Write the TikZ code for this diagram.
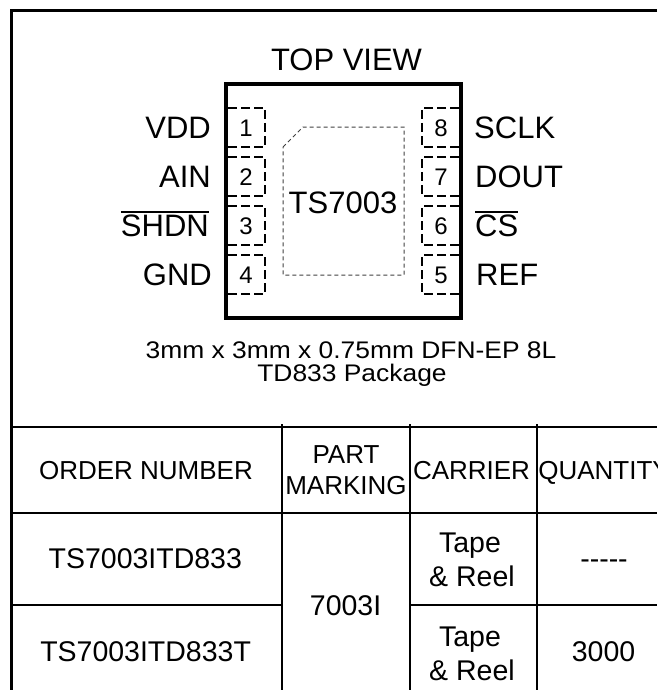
\documentclass[tikz,border=0pt]{standalone}
\usepackage{graphicx}
\usepackage{fontspec}
\setmainfont{Liberation Sans}
\newcommand\ovl[1]{\setbox0=\hbox{#1}\rlap{\rule[0.77em]{\wd0}{1.8pt}}\box0}
\begin{document}
\begin{tikzpicture}[x=1pt,y=-1pt,
  frame/.style={line width=3pt},
  tline/.style={line width=2.6pt},
  chipbody/.style={line width=4pt},
  padline/.style={line width=1.3pt, dash pattern=on 9pt off 4pt},
  epad/.style={line width=1pt, dash pattern=on 4pt off 3pt, draw=black!75},
  big/.style={inner sep=0pt, anchor=base, font=\fontsize{31}{31}\selectfont},
  pinnum/.style={inner sep=0pt, anchor=base, font=\fontsize{24}{24}\selectfont},
  caption/.style={inner sep=0pt, anchor=base, font=\fontsize{24}{24}\selectfont},
  hdr/.style={inner sep=0pt, anchor=base, font=\fontsize{26}{26}\selectfont},
  cell/.style={inner sep=0pt, anchor=base, font=\fontsize{28.5}{28.5}\selectfont}]
\useasboundingbox (0,0) rectangle (657,690);
\clip (0,0) rectangle (657,690);
% outer frame
\draw[frame] (657,11) -- (11,11) -- (11,690);
% table lines
\draw[tline] (11,427) -- (657,427);
\draw[tline] (11,513) -- (657,513);
\draw[tline] (11,605) -- (282,605);
\draw[tline] (410,605) -- (657,605);
\foreach \cx in {282,410,537} \draw[tline] (\cx,424) -- (\cx,690);
% chip
\draw[chipbody] (226,84) rectangle (461,318);
\foreach \i/\t in {1/108,2/157,3/206,4/255} {
  \draw[padline] (228,\t) -- (265,\t) -- (265,\t+39) -- (228,\t+39);
  \node[pinnum] (nl\i) at (246,\t+19.5+8.6) {\i};
}
\foreach \i/\t in {8/108,7/157,6/206,5/255} {
  \draw[padline] (459,\t) -- (422,\t) -- (422,\t+39) -- (459,\t+39);
  \node[pinnum] (nr\i) at (441,\t+19.5+8.6) {\i};
}
\draw[epad] (283,147) -- (303,127) -- (404,127) -- (404,275) -- (283,275) -- cycle;
\node[big] (part) at (343,213) {TS7003};
\node[big] (top) at (346.5,71) {TOP VIEW};
% pin labels
\node[big, anchor=base east] (vdd) at (211,138.5) {VDD};
\node[big, anchor=base east] (ain) at (211,187.5) {AIN};
\node[big, anchor=base east] (shdn) at (209,236.5) {\ovl{SHDN}};
\node[big, anchor=base east] (gnd) at (212,285.5) {GND};
\node[big, anchor=base west] (sclk) at (474,138.5) {SCLK};
\node[big, anchor=base west] (dout) at (475,187.5) {DOUT};
\node[big, anchor=base west] (cs) at (475,236.5) {\ovl{CS}};
\node[big, anchor=base west] (ref) at (476,285.5) {REF};
% caption
\node[caption] (cap1) at (351,358) {\scalebox{1.1}[1]{3mm x 3mm x 0.75mm DFN-EP 8L}};
\node[caption] (cap2) at (352,381.7) {\scalebox{1.1}[1]{TD833 Package}};
% table text
\node[hdr] (h1) at (146,479.3) {ORDER NUMBER};
\node[hdr] (h2a) at (346,463.3) {PART};
\node[hdr] (h2b) at (346,494) {MARKING};
\node[hdr] (h3) at (471.5,479.3) {CARRIER};
\node[hdr] (h4) at (604,479.3) {QUANTITY};
\node[cell] (r1) at (145.3,568) {TS7003ITD833};
\node[cell] (r2) at (145.6,661.7) {TS7003ITD833T};
\node[cell] (mk) at (345.6,615) {7003I};
\node[cell] (c1a) at (470,552) {Tape};
\node[cell] (c1b) at (472,586.7) {\& Reel};
\node[cell] (c2a) at (470,646.7) {Tape};
\node[cell] (c2b) at (472,680) {\& Reel};
\node[cell] (q1) at (604,568) {-{}-{}-{}-{}-};
\node[cell] (q2) at (603.5,661.7) {3000};
\end{tikzpicture}
\end{document}
